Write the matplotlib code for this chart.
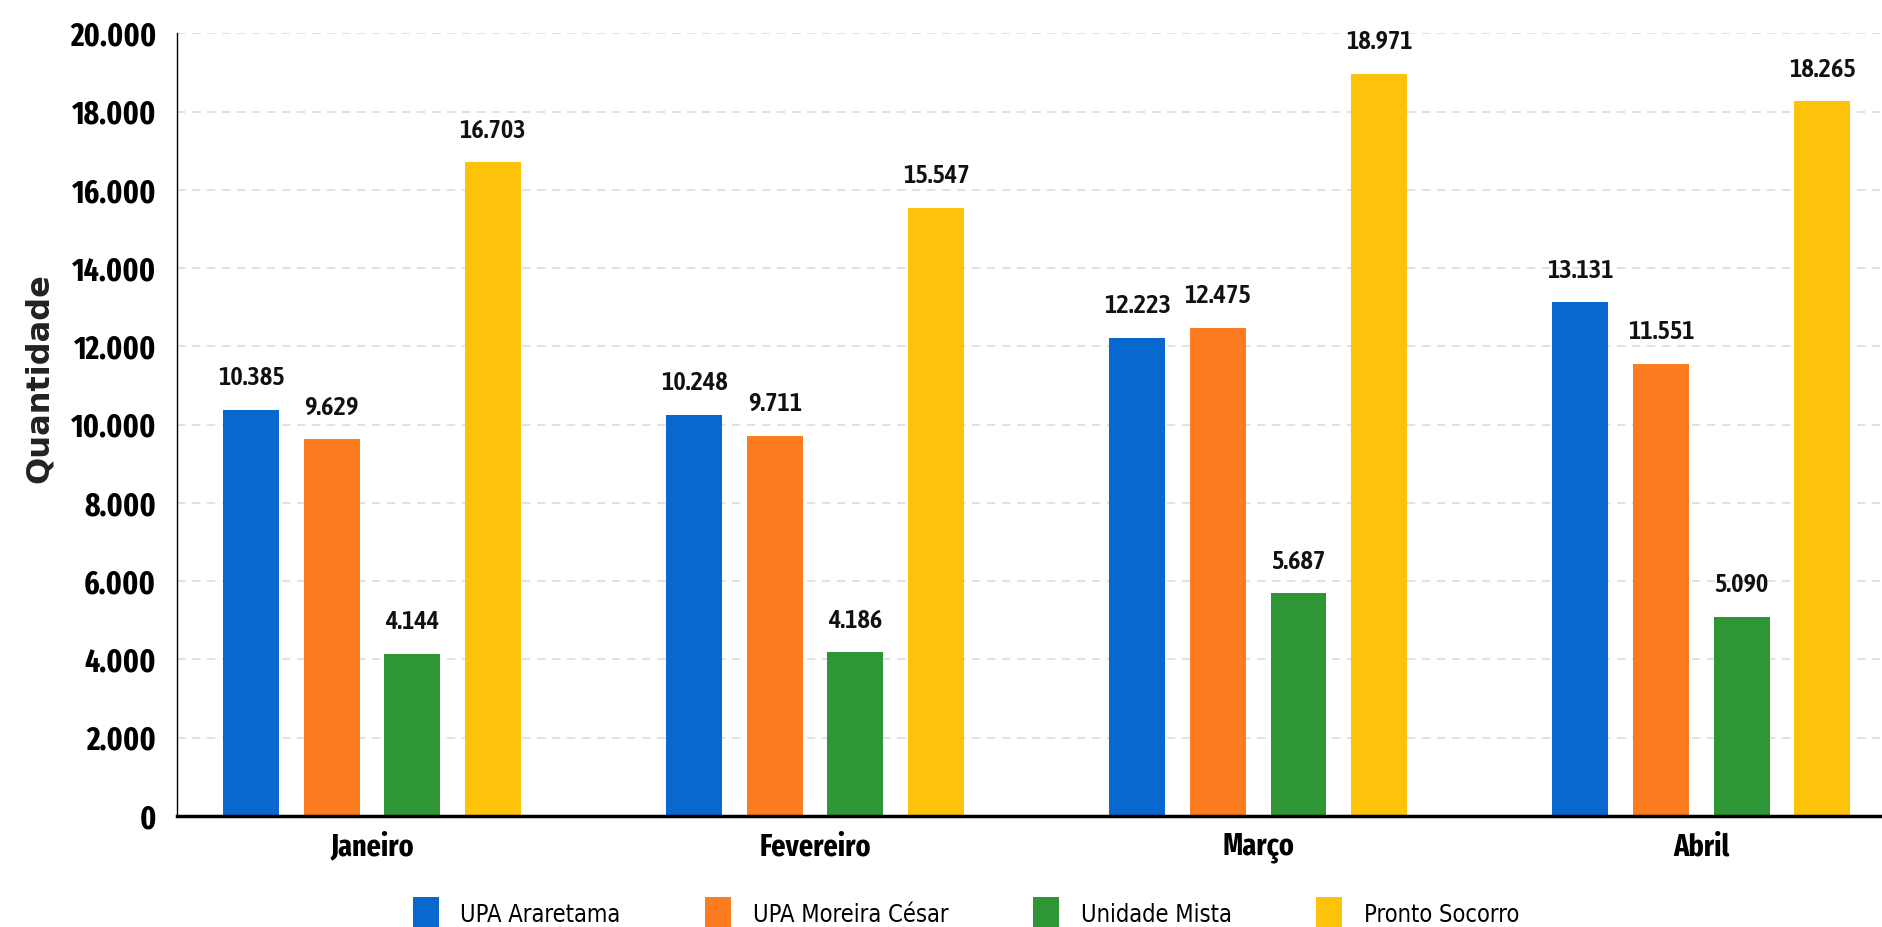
import numpy as np
import matplotlib
matplotlib.use("Agg")
import matplotlib.pyplot as plt
from matplotlib import font_manager as fm

meses = ["Janeiro", "Fevereiro", "Março", "Abril"]
unidades = ["UPA Araretama", "UPA Moreira César", "Unidade Mista", "Pronto Socorro"]
upa_araretama = [10385, 10248, 12223, 13131]
upa_moreira = [9629, 9711, 12475, 11551]
unidade_mista = [4144, 4186, 5687, 5090]
pronto_socorro = [16703, 15547, 18971, 18265]
cores = ["#0868d0", "#fb7d1f", "#2e9635", "#fdc20a"]

WEIGHTS = {"thin": 100, "extralight": 200, "light": 300, "normal": 400, "regular": 400,
           "book": 400, "medium": 500, "semibold": 600, "demibold": 600, "bold": 700,
           "extrabold": 800, "heavy": 800, "black": 900}


def narrow_font(weight, size, extra=False):
    cands = []
    for f in fm.fontManager.ttflist:
        p = f.fname.lower()
        if f.style != "normal":
            continue
        if extra:
            ok = "extracondensed" in p
        else:
            ok = ("condensed" in p or "narrow" in p) and "semicondensed" not in p \
                and "extracondensed" not in p and "ultracondensed" not in p
        if ok:
            w = f.weight if isinstance(f.weight, int) else WEIGHTS.get(str(f.weight).lower(), 400)
            cands.append((abs(w - weight), f.fname))
    if cands:
        cands.sort()
        return fm.FontProperties(fname=cands[0][1], size=size)
    if extra:
        return narrow_font(weight, size * 0.85)
    return fm.FontProperties(family="Roboto", weight=weight, size=size)


def fmt(v):
    return f"{v:,}".replace(",", ".")


def main():
    series = [upa_araretama, upa_moreira, unidade_mista, pronto_socorro]
    f_tick = narrow_font(700, 23, extra=True)
    f_mes = narrow_font(700, 22, extra=True)
    f_val = narrow_font(600, 19)
    f_leg = narrow_font(400, 17)

    fig = plt.figure(figsize=(18.83, 9.27), dpi=100)
    fig.patch.set_facecolor("white")
    ax = fig.add_axes([0.094, 0.12, 0.906, 0.844])

    x = np.arange(len(meses))
    step = 0.182
    width = 0.126
    for i, (vals, nome) in enumerate(zip(series, unidades)):
        pos = x + (i - 1.5) * step
        bars = ax.bar(pos, vals, width, color=cores[i], label=nome, zorder=3)
        for b, v in zip(bars, vals):
            ax.annotate(fmt(v), (b.get_x() + b.get_width() / 2, v),
                        xytext=(0, 14), textcoords="offset points",
                        ha="center", va="bottom", fontproperties=f_val,
                        color="#111111", clip_on=False)

    ax.set_xlim(-0.44, 3.41)
    ax.set_ylim(0, 20000)
    ax.set_yticks(np.arange(0, 20001, 2000))
    ax.set_yticklabels([fmt(t) for t in range(0, 20001, 2000)], fontproperties=f_tick)
    ax.set_xticks(x)
    ax.set_xticklabels(meses, fontproperties=f_mes)
    ax.tick_params(axis="y", length=0, pad=15)
    ax.tick_params(axis="x", length=0, pad=12)

    ax.grid(axis="y", color="#dcdcdc", linestyle=(0, (5, 4)), linewidth=1.2, zorder=0)
    for s in ["top", "right"]:
        ax.spines[s].set_visible(False)
    ax.spines["left"].set_linewidth(1.0)
    ax.spines["bottom"].set_linewidth(2.5)
    ax.spines["bottom"].set_zorder(4)

    fig.text(0.021, 0.592, "Quantidade", rotation=90, ha="center", va="center",
             fontsize=23, fontweight="bold", color="#222222")

    fig.legend(loc="center", bbox_to_anchor=(0.513, 0.014), ncol=4, frameon=False,
               prop=f_leg, handlelength=1.1, handleheight=1.9, handletextpad=0.9,
               columnspacing=3.6, borderpad=0)

    plt.savefig("out.png", dpi=100, facecolor="white")


if __name__ == "__main__":
    main()
